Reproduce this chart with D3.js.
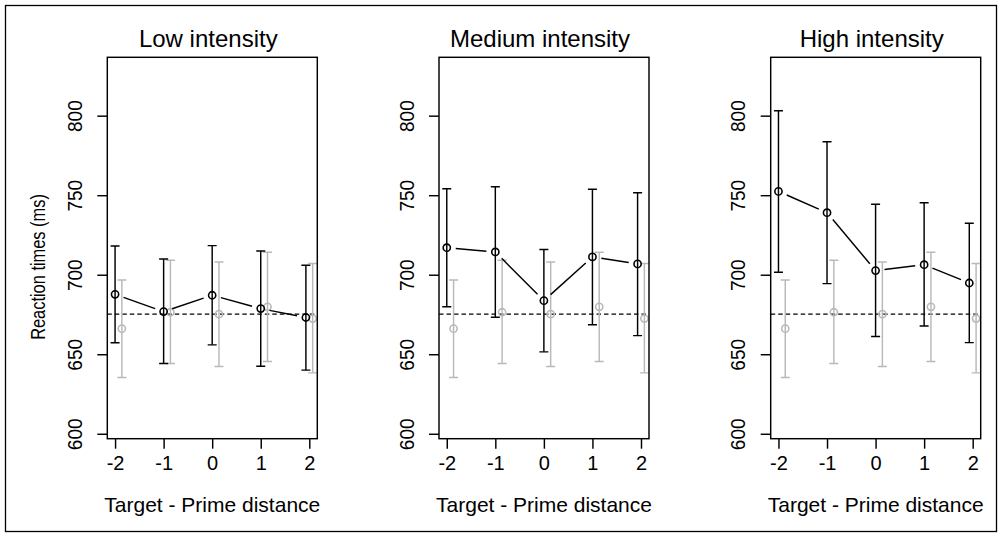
<!DOCTYPE html>
<html>
<head>
<meta charset="utf-8">
<script src="https://cdn.jsdelivr.net/npm/d3@7"></script>
<style>
  body { margin: 0; background: #fff; }
  svg { display: block; font-family: "Liberation Sans", Arial, Helvetica, sans-serif; }
</style>
</head>
<body>
<script>
const width = 1000;
const height = 536;

// data
const distances = [-2, -1, 0, 1, 2];
const panelTitles = ['Low intensity', 'Medium intensity', 'High intensity'];
const yTicks = [600, 650, 700, 750, 800];

// x positions (slightly dodged in the original)
const primeX = [-2, -1, 0, 1, 1.93];
const baseX = [-1.86, -0.86, 0.14, 1.14, 2.07];

const lowMean = [687.7, 676.8, 687.1, 678.7, 673.1];
const lowUpper = [718.1, 709.9, 718.3, 714.9, 706.0];
const lowLower = [657.2, 644.2, 655.9, 642.5, 640.0];

const medMean = [717.0, 714.3, 683.7, 711.2, 706.8];
const medUpper = [754.1, 755.3, 715.8, 753.7, 751.6];
const medLower = [679.8, 673.3, 651.5, 668.5, 661.7];

const highMean = [752.4, 739.0, 702.6, 706.3, 694.8];
const highUpper = [803.1, 783.6, 744.3, 745.3, 732.4];
const highLower = [701.6, 694.4, 661.1, 667.7, 657.3];

// grey control condition, same in every panel
const baseMean = [666.1, 676.4, 675.2, 679.8, 672.4];
const baseUpper = [696.7, 709.1, 708.0, 714.1, 707.0];
const baseLower = [635.4, 644.2, 642.3, 645.4, 638.3];
const baselineRT = 675.2;

const panelSeries = [
  {mean: lowMean, upper: lowUpper, lower: lowLower},
  {mean: medMean, upper: medUpper, lower: medLower},
  {mean: highMean, upper: highUpper, lower: highLower}
];

const toRows = (xs, s) => xs.map((x, i) => ({x: x, mean: s.mean[i], upper: s.upper[i], lower: s.lower[i]}));
const baseRows = toRows(baseX, {mean: baseMean, upper: baseUpper, lower: baseLower});

// layout
const plotLeft0 = 107.3, plotStep = 331.7, plotW = 210;
const plotTop = 57.3, plotBottom = 438.7;
const grey = '#b9b9b9';
const lw = 1.45;

const y = d3.scaleLinear().domain([596.9, 836.7]).range([plotBottom, plotTop]);

const svg = d3.select('body').append('svg')
  .attr('width', width).attr('height', height);

svg.append('rect')
  .attr('x', 5.5).attr('y', 5.5)
  .attr('width', 991).attr('height', 526)
  .attr('fill', 'none').attr('stroke', '#000').attr('stroke-width', 1.3);

panelTitles.forEach((title, p) => {
  const left = plotLeft0 + p * plotStep;
  const x = d3.scaleLinear().domain([-2.16, 2.165]).range([left, left + plotW]);
  const g = svg.append('g');
  const clipId = 'clip' + p;

  svg.append('clipPath').attr('id', clipId)
    .append('rect')
    .attr('x', left).attr('y', plotTop)
    .attr('width', plotW).attr('height', plotBottom - plotTop);

  // axes
  g.append('g')
    .attr('transform', `translate(0,${plotBottom})`)
    .call(d3.axisBottom(x).tickValues(distances).tickSize(10).tickPadding(7).tickFormat(d3.format('d')))
    .call(a => a.select('.domain').remove())
    .call(a => a.selectAll('line').attr('stroke-width', lw))
    .call(a => a.selectAll('text').attr('font-size', 20).attr('fill', '#000').attr('font-family', null)
      .text(d => d < 0 ? '-' + Math.abs(d) : d));

  const yAx = g.append('g')
    .attr('transform', `translate(${left},0)`)
    .call(d3.axisLeft(y).tickValues(yTicks).tickSize(10).tickFormat(d3.format('d')))
    .call(a => a.select('.domain').remove())
    .call(a => a.selectAll('line').attr('stroke-width', lw));
  yAx.selectAll('text').remove();
  yAx.selectAll('.tick').append('text')
    .attr('transform', 'translate(-25.5,0) rotate(-90) scale(0.93,1)')
    .attr('text-anchor', 'middle')
    .attr('font-size', 20.5)
    .attr('fill', '#000')
    .text(d => d);

  const plot = g.append('g').attr('clip-path', `url(#${clipId})`);

  // dashed reference line
  plot.append('line')
    .attr('x1', left).attr('x2', left + plotW)
    .attr('y1', y(baselineRT)).attr('y2', y(baselineRT))
    .attr('stroke', '#000').attr('stroke-width', 1.1)
    .attr('stroke-dasharray', '4.5,3');

  const drawBars = (rows, color) => {
    const bars = plot.append('g').attr('stroke', color).attr('stroke-width', lw).attr('fill', 'none');
    bars.selectAll('line.v').data(rows).join('line')
      .attr('x1', d => x(d.x)).attr('x2', d => x(d.x))
      .attr('y1', d => y(d.upper)).attr('y2', d => y(d.lower));
    bars.selectAll('line.t').data(rows).join('line').attr('class', 't')
      .attr('x1', d => x(d.x) - 4.5).attr('x2', d => x(d.x) + 4.5)
      .attr('y1', d => y(d.upper)).attr('y2', d => y(d.upper));
    bars.selectAll('line.b').data(rows).join('line').attr('class', 'b')
      .attr('x1', d => x(d.x) - 4.5).attr('x2', d => x(d.x) + 4.5)
      .attr('y1', d => y(d.lower)).attr('y2', d => y(d.lower));
    bars.selectAll('circle').data(rows).join('circle')
      .attr('cx', d => x(d.x)).attr('cy', d => y(d.mean))
      .attr('r', 3.6).attr('fill', 'none').attr('stroke-width', 1.6);
  };

  drawBars(baseRows, grey);

  const rows = toRows(primeX, panelSeries[p]);
  // connecting line with gaps around the points (type = "b")
  const gap = 9;
  const segs = d3.pairs(rows).map(([a, b]) => {
    const x1 = x(a.x), y1 = y(a.mean), x2 = x(b.x), y2 = y(b.mean);
    const len = Math.hypot(x2 - x1, y2 - y1);
    const ux = (x2 - x1) / len, uy = (y2 - y1) / len;
    return [x1 + ux * gap, y1 + uy * gap, x2 - ux * gap, y2 - uy * gap];
  });
  plot.append('g').selectAll('line').data(segs).join('line')
    .attr('x1', d => d[0]).attr('y1', d => d[1])
    .attr('x2', d => d[2]).attr('y2', d => d[3])
    .attr('stroke', '#000').attr('stroke-width', lw);

  drawBars(rows, '#000');

  // box
  g.append('rect')
    .attr('x', left).attr('y', plotTop)
    .attr('width', plotW).attr('height', plotBottom - plotTop)
    .attr('fill', 'none').attr('stroke', '#000').attr('stroke-width', lw);

  g.append('text')
    .attr('x', left + plotW / 2 - 4).attr('y', 46.5)
    .attr('text-anchor', 'middle')
    .attr('font-size', 24)
    .text(title);

  g.append('text')
    .attr('x', left + plotW / 2).attr('y', 511.5)
    .attr('text-anchor', 'middle')
    .attr('font-size', 21)
    .text('Target - Prime distance');
});

svg.append('text')
  .attr('transform', 'translate(44.5,267) rotate(-90) scale(0.8,1)')
  .attr('text-anchor', 'middle')
  .attr('font-size', 20.5)
  .text('Reaction times (ms)');
</script>
</body>
</html>
